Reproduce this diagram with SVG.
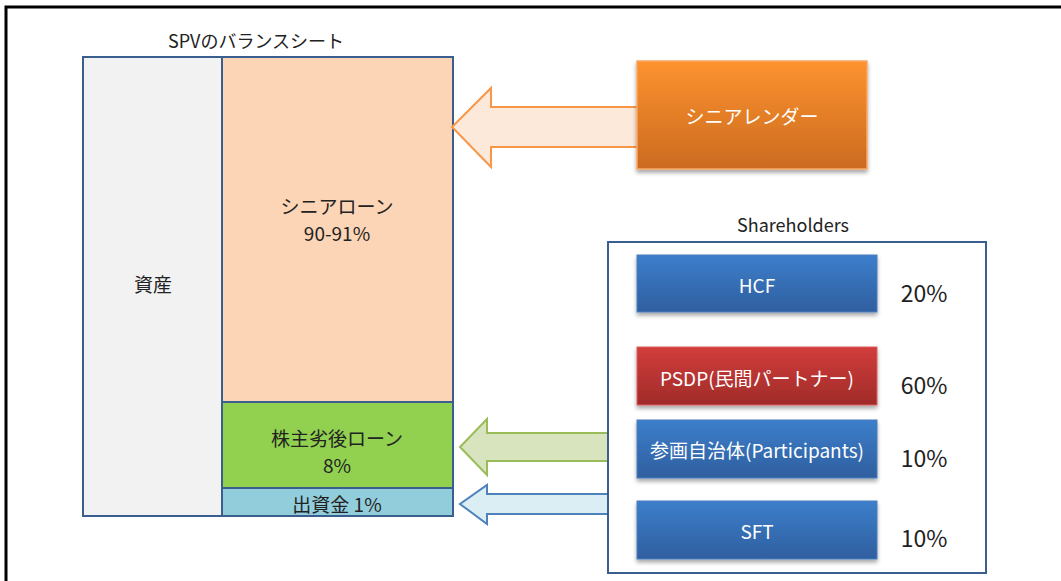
<svg xmlns="http://www.w3.org/2000/svg" width="1061" height="581" viewBox="0 0 1061 581">
<defs>
<linearGradient id="gOrange" x1="0" y1="0" x2="0" y2="1">
<stop offset="0" stop-color="#FD922F"/>
<stop offset="1" stop-color="#CB6B20"/>
</linearGradient>
<linearGradient id="gBlue" x1="0" y1="0" x2="0" y2="1">
<stop offset="0" stop-color="#3C7ECB"/>
<stop offset="1" stop-color="#2F5F9F"/>
</linearGradient>
<linearGradient id="gRed" x1="0" y1="0" x2="0" y2="1">
<stop offset="0" stop-color="#D13D3B"/>
<stop offset="1" stop-color="#A02B29"/>
</linearGradient>
<filter id="shadow" x="-10%" y="-20%" width="120%" height="150%">
<feGaussianBlur in="SourceAlpha" stdDeviation="2"/>
<feOffset dx="0" dy="3" result="b"/>
<feComponentTransfer><feFuncA type="linear" slope="0.35"/></feComponentTransfer>
<feMerge><feMergeNode/><feMergeNode in="SourceGraphic"/></feMerge>
</filter>
</defs>
<style>
text { font-family: "Noto Sans CJK JP", "Noto Sans", sans-serif; text-anchor: middle; dominant-baseline: central; }
.dark { fill: #222; font-size: 19px; }
.white { fill: #fff; font-size: 19px; }
.pct { fill: #222; font-size: 23px; }
.bs { stroke: #3A5F8F; stroke-width: 2; }
.sh { fill: url(#gBlue); stroke: #4A7FC0; stroke-width: 1; filter: url(#shadow); }
</style>
<rect width="1061" height="581" fill="#fff"/>
<path d="M6,581 V7 H1061" fill="none" stroke="#000" stroke-width="3"/>

<g id="title">
<text class="dark" x="256" y="40" style="font-size:18px">SPVのバランスシート</text>
</g>

<g id="assets">
<rect class="bs" x="83" y="57" width="139" height="459" fill="#F2F2F2"/>
<text class="dark" x="153" y="283">資産</text>
</g>
<g id="senior-loan">
<rect class="bs" x="222" y="57" width="231" height="345" fill="#FBD5B5"/>
<text class="dark" x="337" y="205">シニアローン</text>
<text class="dark" x="337" y="232">90-91%</text>
</g>
<g id="sub-loan">
<rect class="bs" x="222" y="402" width="231" height="86" fill="#92D050"/>
<text class="dark" x="337" y="437">株主劣後ローン</text>
<text class="dark" x="337" y="464">8%</text>
</g>
<g id="equity">
<rect class="bs" x="222" y="488" width="231" height="28" fill="#92CDDC"/>
<text class="dark" x="337" y="503">出資金 1%</text>
</g>

<g id="connectors">
<path d="M637,107 H491 V88 L452,127 L491,167 V147 H637" fill="#FDE9D9" stroke="#F79646" stroke-width="2"/>
<path d="M609,433 H487 V419 L460,447 L487,475 V461 H609" fill="#D7E4BD" stroke="#9BBB59" stroke-width="2"/>
<path d="M609,494 H487 V485 L460,504 L487,524 V514 H609" fill="#DBEEF4" stroke="#4F81BD" stroke-width="2"/>
</g>

<g id="senior-lender">
<rect x="637" y="61" width="230" height="108" fill="url(#gOrange)" stroke="#F9A864" stroke-width="1.5" filter="url(#shadow)"/>
<text class="white" x="752" y="115">シニアレンダー</text>
</g>

<g id="shareholders">
<text class="dark" x="793" y="224" style="font-size:18px">Shareholders</text>
<rect x="608" y="242" width="378" height="331" fill="#fff" stroke="#3A5F8F" stroke-width="2"/>
</g>
<g id="hcf">
<rect class="sh" x="637" y="255" width="240" height="57"/>
<text class="white" x="757" y="284">HCF</text>
<text class="pct" x="924" y="292">20%</text>
</g>
<g id="psdp">
<rect x="637" y="347" width="240" height="58" fill="url(#gRed)" stroke="#D9605E" stroke-width="1" filter="url(#shadow)"/>
<text class="white" x="757" y="377">PSDP(民間パートナー)</text>
<text class="pct" x="924" y="384">60%</text>
</g>
<g id="participants">
<rect class="sh" x="637" y="420" width="240" height="58"/>
<text class="white" x="757" y="449">参画自治体(Participants)</text>
<text class="pct" x="924" y="457">10%</text>
</g>
<g id="sft">
<rect class="sh" x="637" y="501" width="240" height="58"/>
<text class="white" x="757" y="530">SFT</text>
<text class="pct" x="924" y="537">10%</text>
</g>
</svg>
